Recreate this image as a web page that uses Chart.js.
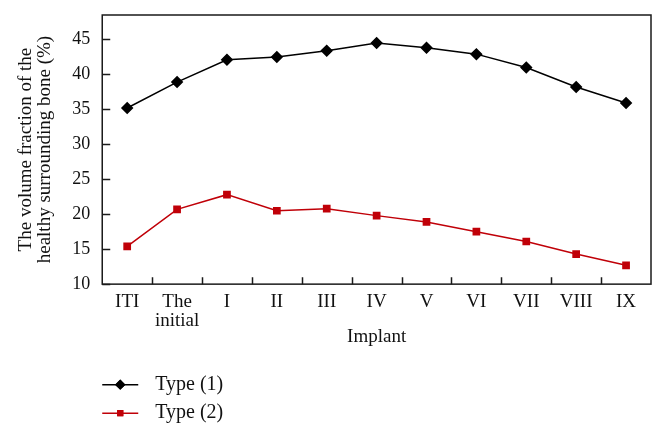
<!DOCTYPE html>
<html>
<head>
<meta charset="utf-8">
<script src="https://cdn.jsdelivr.net/npm/chart.js@4.4.1/dist/chart.umd.min.js"></script>
<style>
  html, body { margin: 0; padding: 0; background: #fff; }
  #wrap { width: 666px; height: 436px; }
</style>
</head>
<body>
<div id="wrap"><canvas id="myChart" width="666" height="436"></canvas></div>
<script>
// categories on the x axis
const implants = ['ITI', ['The', 'initial'], 'I', 'II', 'III', 'IV', 'V', 'VI', 'VII', 'VIII', 'IX'];
// volume fraction of the healthy surrounding bone (%)
const type1 = [35.2, 38.9, 42.1, 42.5, 43.4, 44.5, 43.8, 42.9, 41.0, 38.2, 35.9];
const type2 = [15.4, 20.7, 22.8, 20.5, 20.8, 19.8, 18.9, 17.5, 16.1, 14.3, 12.7];
const seriesNames = ['Type (1)', 'Type (2)'];
const yTicks = [10, 15, 20, 25, 30, 35, 40, 45];

const serif = "'Liberation Serif', 'DejaVu Serif', serif";

// frame, inward ticks and the stacked legend under the plot
const framePlugin = {
  id: 'frame',
  afterDraw(chart) {
    const { ctx, chartArea: a, scales } = chart;
    const x = scales.x, y = scales.y;
    ctx.save();
    ctx.strokeStyle = '#1a1a1a';
    ctx.lineWidth = 1.5;
    ctx.strokeRect(a.left, a.top, a.right - a.left, a.bottom - a.top);
    ctx.beginPath();
    y.ticks.forEach(t => {
      const py = Math.round(y.getPixelForValue(t.value)) + 0.5;
      ctx.moveTo(a.left, py);
      ctx.lineTo(a.left + 8, py);
    });
    for (let i = 1; i < implants.length; i++) {
      const px = Math.round((x.getPixelForValue(i - 1) + x.getPixelForValue(i)) / 2) + 0.5;
      ctx.moveTo(px, a.bottom);
      ctx.lineTo(px, a.bottom - 7);
    }
    ctx.stroke();

    // legend
    ctx.font = '20px ' + serif;
    ctx.textBaseline = 'middle';
    chart.data.datasets.forEach((ds, i) => {
      const cy = a.bottom + 100.5 + i * 28.5;
      const x0 = a.left, x1 = a.left + 36, cx = (x0 + x1) / 2;
      ctx.strokeStyle = ds.borderColor;
      ctx.lineWidth = 1.5;
      ctx.beginPath();
      ctx.moveTo(x0, cy);
      ctx.lineTo(x1, cy);
      ctx.stroke();
      ctx.fillStyle = ds.borderColor;
      Chart.helpers.drawPoint(ctx, { pointStyle: ds.pointStyle, radius: ds.pointRadius, rotation: 0 }, cx, cy);
      ctx.fill();
      ctx.fillStyle = '#111';
      ctx.fillText(ds.label, a.left + 53, cy);
    });
    ctx.restore();
  }
};

new Chart(document.getElementById('myChart').getContext('2d'), {
  type: 'line',
  data: {
    labels: implants,
    datasets: [
      {
        label: seriesNames[0],
        data: type1,
        borderColor: '#000000',
        backgroundColor: '#000000',
        borderWidth: 1.5,
        pointStyle: 'rectRot',
        pointRadius: 5.2,
        tension: 0
      },
      {
        label: seriesNames[1],
        data: type2,
        borderColor: '#c00008',
        backgroundColor: '#c00008',
        borderWidth: 1.5,
        pointStyle: 'rect',
        pointRadius: 4.4,
        tension: 0
      }
    ]
  },
  options: {
    responsive: false,
    animation: false,
    devicePixelRatio: 1,
    layout: { padding: { left: 15, right: 15, top: 15, bottom: 89 } },
    plugins: {
      legend: { display: false },
      tooltip: { enabled: false }
    },
    scales: {
      x: {
        offset: true,
        grid: { display: false, drawTicks: false },
        border: { display: false },
        ticks: {
          color: '#111',
          padding: 9,
          maxRotation: 0,
          autoSkip: false,
          font: { family: serif, size: 19, lineHeight: 0.97 }
        },
        title: {
          display: true,
          text: 'Implant',
          color: '#111',
          padding: { top: -11, bottom: 0 },
          font: { family: serif, size: 19, lineHeight: 1 }
        }
      },
      y: {
        min: 10,
        max: 48.5,
        afterBuildTicks: s => { s.ticks = yTicks.map(v => ({ value: v })); },
        afterFit: s => { s.paddingTop = 0; },
        grid: { display: false, drawTicks: false },
        border: { display: false },
        ticks: {
          color: '#111',
          padding: 12,
          font: { family: serif, size: 18 }
        },
        title: {
          display: true,
          text: ['The volume fraction of the', 'healthy surrounding bone (%)'],
          color: '#111',
          padding: { top: 2, bottom: 6 },
          font: { family: serif, size: 19, lineHeight: 0.98 }
        }
      }
    }
  },
  plugins: [framePlugin]
});
</script>
</body>
</html>
